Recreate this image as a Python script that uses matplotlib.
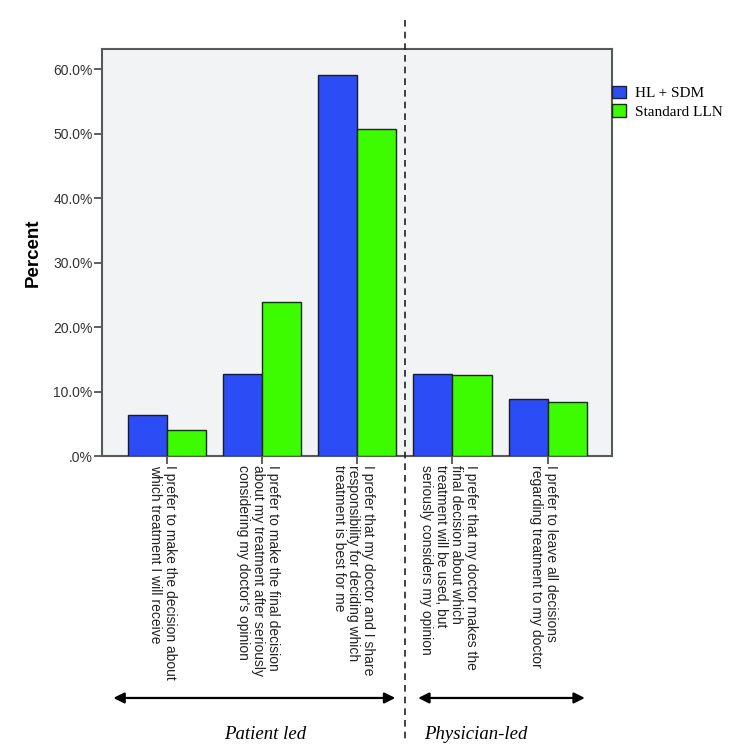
import numpy as np
import matplotlib
matplotlib.use("Agg")
import matplotlib.pyplot as plt
from matplotlib.transforms import blended_transform_factory
from matplotlib.patches import Patch

# --- data ---
categories = [
    "I prefer to make the decision about\nwhich treatment I will receive",
    "I prefer to make the final decision\nabout my treatment after seriously\nconsidering my doctor's opinion",
    "I prefer that my doctor and I share\nresponsibility for deciding which\ntreatment is best for me",
    "I prefer that my doctor makes the\nfinal decision about which\ntreatment will be used, but\nseriously considers my opinion",
    "I prefer to leave all decisions\nregarding treatment to my doctor",
]
hl_sdm = [6.4, 12.7, 59.1, 12.8, 8.9]
standard_lln = [4.1, 23.9, 50.7, 12.6, 8.4]
series_names = ["HL + SDM", "Standard LLN"]
yticks = [0, 10, 20, 30, 40, 50, 60]

blue = "#2c4cf6"
green = "#3dfc00"

plt.rcParams["font.family"] = ["Liberation Sans", "DejaVu Sans"]

fig = plt.figure(figsize=(7.37, 7.51), dpi=100)
ax = fig.add_axes([0.1388, 0.3928, 0.6916, 0.5415])
ax.set_facecolor("#f1f3f5")

x = np.arange(len(categories))
w = 0.41
ax.bar(x - w / 2, hl_sdm, w, color=blue, edgecolor="#1a1a2a", lw=1.0, zorder=3)
ax.bar(x + w / 2, standard_lln, w, color=green, edgecolor="#1a2a1a", lw=1.0, zorder=3)

ax.set_xlim(-0.676, 4.675)
ax.set_ylim(0, 63.1)
ax.set_yticks(yticks)
ax.set_yticklabels([".0%" if v == 0 else f"{v:.1f}%" for v in yticks],
                   fontsize=10, color="#333333")
ax.set_xticks(x)
ax.set_xticklabels([])
ax.tick_params(axis="y", length=6, width=1.2, color="#444444", pad=1)
ax.tick_params(axis="x", length=6, width=1.2, color="#444444")
for s in ax.spines.values():
    s.set_color("#555a5a")
    s.set_linewidth(1.5)

ax.set_ylabel("Percent", fontsize=13.5, fontweight="bold", labelpad=8)

trans = blended_transform_factory(ax.transData, ax.transAxes)
for i, lab in enumerate(categories):
    ax.text(i - 0.04, -0.022, lab, transform=trans, rotation=-90,
            ha="center", va="top", multialignment="left",
            fontsize=10, color="#222222", linespacing=1.08)

# divider between patient-led and physician-led
ax.plot([2.5, 2.5], [1.072, -0.698], transform=trans, color="#222222",
        lw=1.2, ls=(0, (4, 3)), clip_on=False, zorder=5)

# group arrows and labels
arrow = dict(arrowstyle="<|-|>", color="black", lw=1.6, mutation_scale=16,
             shrinkA=0, shrinkB=0)
ax.annotate("", xy=(-0.56, -0.595), xytext=(2.40, -0.595), xycoords=trans,
            textcoords=trans, arrowprops=arrow, annotation_clip=False)
ax.annotate("", xy=(2.64, -0.595), xytext=(4.39, -0.595), xycoords=trans,
            textcoords=trans, arrowprops=arrow, annotation_clip=False)
ax.text(1.03, -0.686, "Patient led", transform=trans, ha="center", va="center",
        fontsize=13.5, style="italic", family="Liberation Serif")
ax.text(3.24, -0.686, "Physician-led", transform=trans, ha="center", va="center",
        fontsize=13.5, style="italic", family="Liberation Serif")

handles = [Patch(facecolor=blue, edgecolor="#222222", lw=1.0),
           Patch(facecolor=green, edgecolor="#222222", lw=1.0)]
fig.legend(handles, series_names, loc="upper left", bbox_to_anchor=(0.831, 0.886),
           frameon=False, borderpad=0, borderaxespad=0, handlelength=0.9,
           handleheight=0.9, handletextpad=0.6, labelspacing=0.25,
           prop={"family": "Liberation Serif", "size": 11})

fig.savefig("out.png", dpi=100)
